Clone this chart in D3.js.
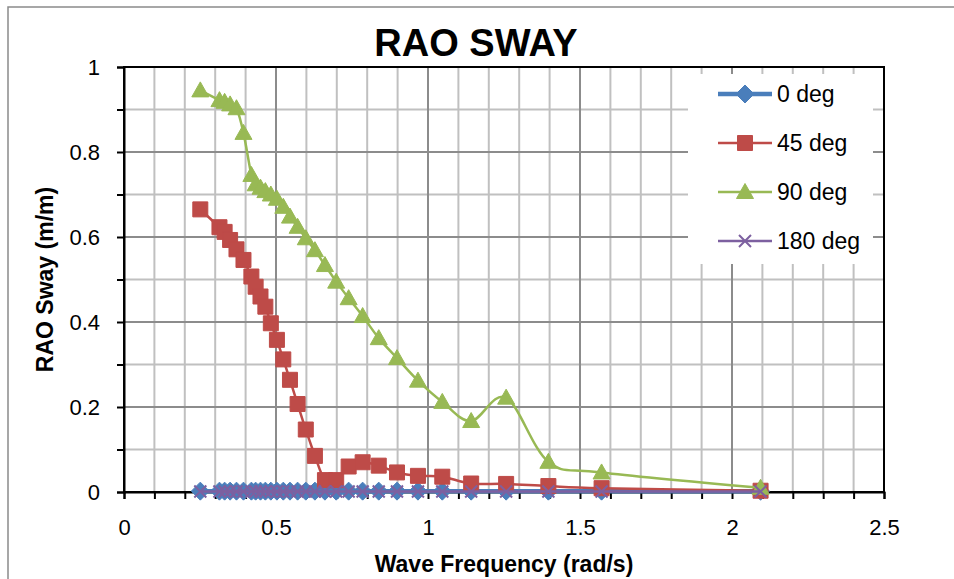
<!DOCTYPE html>
<html lang="en">
<head>
    <meta charset="utf-8">
    <title>RAO Sway</title>
    <style>
        body { margin: 0; background: #fff; }
        svg text { font-family: "Liberation Sans", Arial, sans-serif; fill: #000; }
    </style>
</head>
<body>
    <svg id="chart" width="954" height="579"></svg>
    <script src="https://cdn.jsdelivr.net/npm/d3@7"></script>
    <script>
        // wave frequency (rad/s)
        const freq = [0.251, 0.314, 0.331, 0.349, 0.370, 0.393, 0.419, 0.433, 0.449, 0.465,
                      0.483, 0.503, 0.524, 0.546, 0.571, 0.598, 0.628, 0.661, 0.698, 0.739,
                      0.785, 0.838, 0.898, 0.967, 1.047, 1.142, 1.257, 1.396, 1.571, 2.094];

        const deg0 = [0.002, 0.002, 0.002, 0.002, 0.002, 0.002, 0.002, 0.002, 0.002, 0.002,
                      0.002, 0.002, 0.002, 0.002, 0.002, 0.002, 0.002, 0.002, 0.002, 0.002,
                      0.002, 0.002, 0.002, 0.002, 0.002, 0.002, 0.002, 0.002, 0.002, 0.002];

        const deg45 = [0.665, 0.623, 0.612, 0.593, 0.571, 0.546, 0.507, 0.483, 0.460, 0.436,
                       0.397, 0.358, 0.312, 0.264, 0.207, 0.147, 0.085, 0.028, 0.028, 0.060,
                       0.070, 0.062, 0.046, 0.038, 0.036, 0.020, 0.019, 0.014, 0.009, 0.003];

        const deg90 = [0.945, 0.922, 0.918, 0.912, 0.903, 0.845, 0.746, 0.724, 0.716, 0.708,
                       0.700, 0.690, 0.671, 0.648, 0.624, 0.597, 0.569, 0.534, 0.495, 0.456,
                       0.414, 0.362, 0.315, 0.262, 0.212, 0.167, 0.222, 0.071, 0.046, 0.010];

        const deg180 = [0.001, 0.001, 0.001, 0.001, 0.001, 0.001, 0.001, 0.001, 0.001, 0.001,
                        0.001, 0.001, 0.001, 0.001, 0.001, 0.001, 0.001, 0.001, 0.001, 0.001,
                        0.001, 0.001, 0.001, 0.001, 0.001, 0.001, 0.001, 0.001, 0.001, 0.001];

        const seriesNames = ["0 deg", "45 deg", "90 deg", "180 deg"];
        const xTickLabels = ["0", "0.5", "1", "1.5", "2", "2.5"];
        const yTickLabels = ["0", "0.2", "0.4", "0.6", "0.8", "1"];

        const series = [
            {name: seriesNames[0], values: deg0,   color: "#4A7EBB", width: 4.5, marker: "diamond"},
            {name: seriesNames[1], values: deg45,  color: "#BE4B48", width: 2.5, marker: "square"},
            {name: seriesNames[2], values: deg90,  color: "#98B954", width: 2.5, marker: "triangle"},
            {name: seriesNames[3], values: deg180, color: "#7D60A0", width: 2.5, marker: "cross"}
        ];

        const svg = d3.select("#chart");
        const plotL = 124, plotR = 884, plotT = 67, plotB = 492;

        const x = d3.scaleLinear().domain([0, 2.5]).range([plotL, plotR]);
        const y = d3.scaleLinear().domain([0, 1]).range([plotB, plotT]);

        // chart frame
        svg.append("rect")
            .attr("x", 8).attr("y", 7)
            .attr("width", 1000).attr("height", 700)
            .attr("fill", "#fff")
            .attr("stroke", "#8a8a8a")
            .attr("stroke-width", 1.5);

        // markers
        function markerPath(type, cx, cy) {
            if (type === "diamond") {
                const r = 9;
                return `M${cx},${cy - r}L${cx + r},${cy}L${cx},${cy + r}L${cx - r},${cy}Z`;
            }
            if (type === "square") {
                const r = 7.5;
                return `M${cx - r},${cy - r}h${2 * r}v${2 * r}h${-2 * r}Z`;
            }
            if (type === "triangle") {
                return `M${cx},${cy - 8.5}L${cx + 8.5},${cy + 6.5}L${cx - 8.5},${cy + 6.5}Z`;
            }
            const r = 6;
            return `M${cx - r},${cy - r}L${cx + r},${cy + r}M${cx - r},${cy + r}L${cx + r},${cy - r}`;
        }

        // gridlines
        const grid = svg.append("g");
        grid.selectAll(".gx")
            .data(x.ticks(25).filter(d => Math.round(d * 10) % 5 !== 0))
            .join("line")
            .attr("x1", d => x(d)).attr("x2", d => x(d))
            .attr("y1", plotT).attr("y2", plotB)
            .attr("stroke", "#c0c0c0").attr("stroke-width", 2);
        grid.selectAll(".gy")
            .data(y.ticks(10).filter(d => Math.round(d * 10) % 2 !== 0))
            .join("line")
            .attr("y1", d => y(d)).attr("y2", d => y(d))
            .attr("x1", plotL).attr("x2", plotR)
            .attr("stroke", "#c0c0c0").attr("stroke-width", 2);
        grid.selectAll(".mx")
            .data(x.ticks(5))
            .join("line")
            .attr("x1", d => x(d)).attr("x2", d => x(d))
            .attr("y1", plotT).attr("y2", plotB)
            .attr("stroke", "#8c8c8c").attr("stroke-width", 2);
        grid.selectAll(".my")
            .data(y.ticks(5))
            .join("line")
            .attr("y1", d => y(d)).attr("y2", d => y(d))
            .attr("x1", plotL).attr("x2", plotR)
            .attr("stroke", "#8c8c8c").attr("stroke-width", 2);

        // plot border
        svg.append("rect")
            .attr("x", plotL).attr("y", plotT)
            .attr("width", plotR - plotL).attr("height", plotB - plotT)
            .attr("fill", "none")
            .attr("stroke", "#000").attr("stroke-width", 2);

        // axes
        const xAxis = d3.axisBottom(x)
            .tickValues(x.ticks(25))
            .tickSize(7)
            .tickPadding(20)
            .tickFormat(d => {
                const i = x.ticks(5).findIndex(t => Math.abs(t - d) < 1e-9);
                return i >= 0 ? xTickLabels[i] : "";
            });
        const yAxis = d3.axisLeft(y)
            .tickValues(y.ticks(10))
            .tickSize(7)
            .tickPadding(17)
            .tickFormat(d => {
                const i = y.ticks(5).findIndex(t => Math.abs(t - d) < 1e-9);
                return i >= 0 ? yTickLabels[i] : "";
            });

        const gx = svg.append("g").attr("transform", `translate(0,${plotB})`).call(xAxis);
        const gy = svg.append("g").attr("transform", `translate(${plotL},0)`).call(yAxis);
        [gx, gy].forEach(g => {
            g.select(".domain").attr("stroke", "#000").attr("stroke-width", 2);
            g.selectAll(".tick line").attr("stroke", "#000").attr("stroke-width", 2);
            g.selectAll("text")
                .attr("font-family", "'Liberation Sans', Arial, sans-serif")
                .attr("font-size", 22)
                .attr("fill", "#000");
        });

        // series
        const line = d3.line()
            .x(d => x(d[0]))
            .y(d => y(d[1]))
            .curve(d3.curveCardinal.tension(0));

        series.forEach(s => {
            const pts = freq.map((f, i) => [f, s.values[i]]);
            const g = svg.append("g");
            g.append("path")
                .attr("d", line(pts))
                .attr("fill", "none")
                .attr("stroke", s.color)
                .attr("stroke-width", s.width);
            g.selectAll("path.m")
                .data(pts)
                .join("path")
                .attr("class", "m")
                .attr("d", d => markerPath(s.marker, x(d[0]), y(d[1])))
                .attr("fill", s.marker === "cross" ? "none" : s.color)
                .attr("stroke", s.color)
                .attr("stroke-width", s.marker === "cross" ? 2 : 1);
        });

        // legend
        const legend = svg.append("g");
        legend.append("rect")
            .attr("x", 688).attr("y", 74)
            .attr("width", 185).attr("height", 190)
            .attr("fill", "#fff");
        series.forEach((s, i) => {
            const ly = 94 + i * 49;
            legend.append("line")
                .attr("x1", 718).attr("x2", 772)
                .attr("y1", ly).attr("y2", ly)
                .attr("stroke", s.color)
                .attr("stroke-width", s.width);
            legend.append("path")
                .attr("d", markerPath(s.marker, 745, ly))
                .attr("fill", s.marker === "cross" ? "none" : s.color)
                .attr("stroke", s.color)
                .attr("stroke-width", s.marker === "cross" ? 2 : 1);
            legend.append("text")
                .attr("x", 777).attr("y", ly)
                .attr("dy", "0.35em")
                .attr("font-size", 23)
                .text(s.name);
        });

        // titles
        svg.append("text")
            .attr("x", 476).attr("y", 56)
            .attr("text-anchor", "middle")
            .attr("font-size", 38)
            .attr("font-weight", "bold")
            .text("RAO SWAY");

        svg.append("text")
            .attr("x", (plotL + plotR) / 2).attr("y", 572)
            .attr("text-anchor", "middle")
            .attr("font-size", 23)
            .attr("font-weight", "bold")
            .text("Wave Frequency (rad/s)");

        svg.append("text")
            .attr("transform", `translate(53,${(plotT + plotB) / 2}) rotate(-90)`)
            .attr("text-anchor", "middle")
            .attr("font-size", 23)
            .attr("font-weight", "bold")
            .text("RAO Sway (m/m)");
    </script>
</body>
</html>
